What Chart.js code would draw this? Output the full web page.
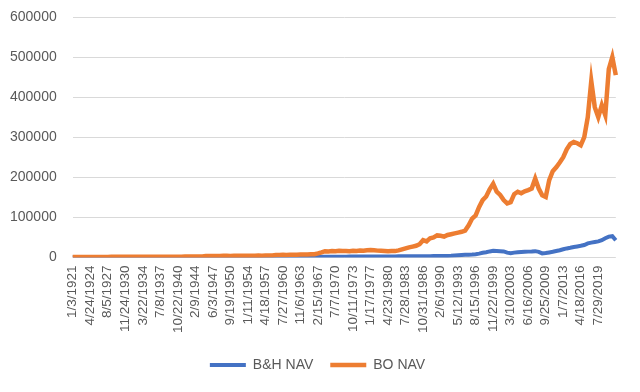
<!DOCTYPE html>
<html>
<head>
<meta charset="utf-8">
<title>B&amp;H NAV vs BO NAV</title>
<script src="https://cdn.jsdelivr.net/npm/chart.js@4"></script>
<style>
  html, body { margin: 0; padding: 0; background: #ffffff; }
  #wrap { width: 640px; height: 392px; }
</style>
</head>
<body>
<div id="wrap"><canvas id="navChart" width="640" height="392"></canvas></div>
<script>
// Tick labels shown on the x axis (every 5th point)
const tickLabels = [
  "1/3/1921", "4/24/1924", "8/5/1927", "11/24/1930", "3/22/1934", "7/8/1937",
  "10/22/1940", "2/9/1944", "6/3/1947", "9/19/1950", "1/11/1954", "4/18/1957",
  "7/27/1960", "11/6/1963", "2/15/1967", "7/7/1970", "10/11/1973", "1/17/1977",
  "4/23/1980", "7/28/1983", "10/31/1986", "2/6/1990", "5/12/1993", "8/15/1996",
  "11/22/1999", "3/10/2003", "6/16/2006", "9/25/2009", "1/7/2013", "4/18/2016",
  "7/29/2019"
];
const pointsPerTick = 5;

// Buy & hold NAV
const bhNav = [
  200, 200, 220, 230, 240, 250, 260, 270, 280, 290,
  300, 310, 320, 330, 340, 350, 360, 370, 380, 390,
  400, 410, 420, 430, 440, 450, 460, 470, 480, 500,
  520, 540, 560, 580, 600, 620, 640, 660, 680, 700,
  720, 740, 760, 780, 800, 820, 840, 860, 880, 900,
  920, 940, 960, 980, 1000, 1000, 1050, 1100, 1100, 1150,
  1200, 1200, 1250, 1300, 1300, 1400, 1400, 1500, 1500, 1600,
  1600, 1700, 1700, 1800, 1800, 1900, 1900, 2000, 2000, 2100,
  2100, 2200, 2200, 2300, 2300, 2400, 2400, 2300, 2400, 2500,
  2500, 2600, 2600, 2700, 2800, 2800, 2900, 2900, 3000, 3000,
  3000, 3100, 3200, 3300, 3500, 3400, 3600, 3800, 4200, 4800,
  5500, 6000, 6500, 7000, 7500, 8200, 9500, 11500, 13000, 15000,
  16500, 16000, 15500, 15000, 12000, 10500, 12000, 13000, 13500, 14000,
  14500, 15000, 15700, 14000, 10000, 11000, 12500, 14000, 16000, 18000,
  20500, 22500, 24000, 26000, 27500, 29000, 31000, 35000, 37000, 38500,
  40000, 43000, 48000, 52000, 53000, 43000
];

// Breakout strategy NAV
const boNav = [
  1000, 1000, 1100, 1100, 1100, 1200, 1200, 1200, 1300, 1300,
  1300, 1400, 1400, 1400, 1500, 1500, 1500, 1600, 1600, 1600,
  1700, 1700, 1700, 1800, 1800, 1800, 1900, 1900, 1900, 2000,
  2000, 2000, 2100, 2100, 2200, 2200, 2300, 2300, 3500, 3600,
  3500, 3800, 3700, 3900, 4000, 3800, 4100, 4200, 4000, 4300,
  4400, 4200, 4500, 4600, 4400, 4700, 4800, 4600, 6000, 6300,
  6500, 6200, 6800, 7000, 6700, 7200, 7500, 7300, 7800, 8200,
  10000, 12500, 15500, 15000, 16000, 15500, 16500, 15800, 16200, 15500,
  16800, 16000, 17000, 16500, 18000, 18500, 18000, 17000, 16500, 16000,
  15500, 16000, 15800, 17500, 20000, 22500, 25000, 27000, 29000, 33000,
  43000, 40000, 48000, 50000, 55000, 54000, 52000, 56000, 58000, 60000,
  62000, 64000, 67000, 80000, 97000, 105000, 126000, 143000, 152000, 170000,
  184000, 164000, 156000, 143000, 135000, 138000, 158000, 164000, 160000, 165000,
  168000, 172000, 197000, 172000, 155000, 151000, 193000, 215000, 225000, 237000,
  250000, 270000, 283000, 288000, 285000, 280000, 300000, 350000, 440000, 375000,
  350000, 380000, 355000, 470000, 500000, 455000
];

// Category labels: a tick label on every 5th point, blank elsewhere
const labels = boNav.map(function(v, i) {
  return i % pointsPerTick === 0 && tickLabels[i / pointsPerTick] ? tickLabels[i / pointsPerTick] : "";
});

const textColor = "#595959";
const fontFamily = "'Liberation Sans', Arial, sans-serif";

const ctx = document.getElementById("navChart").getContext("2d");
new Chart(ctx, {
  type: "line",
  data: {
    labels: labels,
    datasets: [
      {
        label: "B&H NAV",
        data: bhNav,
        borderColor: "#4472C4",
        backgroundColor: "#4472C4",
        borderWidth: 4,
        pointRadius: 0,
        tension: 0,
        order: 1
      },
      {
        label: "BO NAV",
        data: boNav,
        borderColor: "#ED7D31",
        backgroundColor: "#ED7D31",
        borderWidth: 4.5,
        pointRadius: 0,
        tension: 0,
        order: 0
      }
    ]
  },
  options: {
    responsive: false,
    devicePixelRatio: 1,
    animation: false,
    layout: { padding: { top: 17, left: 8, right: 13, bottom: 10 } },
    plugins: {
      tooltip: { enabled: false },
      legend: {
        position: "bottom",
        labels: {
          usePointStyle: true,
          pointStyle: "line",
          pointStyleWidth: 36,
          padding: 17,
          color: textColor,
          font: { family: fontFamily, size: 14 },
          sort: function(a, b) { return a.datasetIndex - b.datasetIndex; }
        }
      }
    },
    scales: {
      x: {
        type: "category",
        offset: false,
        grid: { display: false, drawTicks: false },
        border: { display: false },
        ticks: {
          autoSkip: false,
          minRotation: 90,
          maxRotation: 90,
          padding: 8,
          color: textColor,
          font: { family: fontFamily, size: 13.5 }
        }
      },
      y: {
        min: 0,
        max: 600000,
        grid: {
          color: "#d9d9d9",
          lineWidth: 1,
          drawTicks: true,
          tickLength: 14,
          tickColor: "rgba(0,0,0,0)"
        },
        border: { display: false },
        ticks: {
          stepSize: 100000,
          padding: 2,
          color: textColor,
          font: { family: fontFamily, size: 14 },
          callback: function(value) { return String(value); }
        }
      }
    }
  }
});
</script>
</body>
</html>
